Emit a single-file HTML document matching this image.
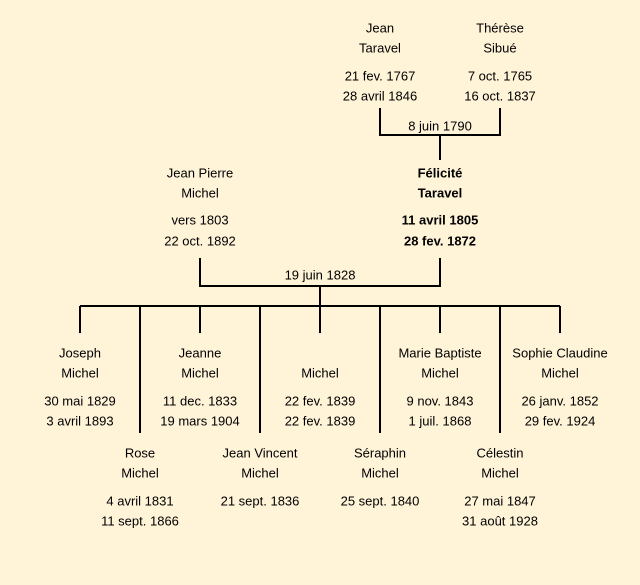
<!DOCTYPE html>
<html><head><meta charset="utf-8"><style>
html,body{margin:0;padding:0;background:#fff3d8;}
svg{display:block}
text{font-family:"Liberation Sans",sans-serif;font-size:13px;fill:#000;text-anchor:middle;dominant-baseline:central}
.b{font-weight:bold}
</style></head><body>
<svg width="640" height="585" viewBox="0 0 640 585">
<rect width="640" height="585" fill="#fff3d8"/>
<g stroke="#000" stroke-width="2" fill="none">
<path d="M380 108V135H500V108M440 135V160"/>
<path d="M200 258V286H440V258M320 286V306"/>
<path d="M80 306H560"/>
<path d="M80 306V333M200 306V333M320 306V333M440 306V333M560 306V333"/>
<path d="M140 306V433M260 306V433M380 306V433M500 306V433"/>
</g>
<g transform="translate(0,1)">
<text x="380" y="27">Jean</text><text x="380" y="47">Taravel</text>
<text x="380" y="75">21 fev. 1767</text><text x="380" y="95">28 avril 1846</text>
<text x="500" y="27">Thérèse</text><text x="500" y="47">Sibué</text>
<text x="500" y="75">7 oct. 1765</text><text x="500" y="95">16 oct. 1837</text>
<text x="440" y="125">8 juin 1790</text>
<text x="200" y="172">Jean Pierre</text><text x="200" y="192">Michel</text>
<text x="200" y="219">vers 1803</text><text x="200" y="240">22 oct. 1892</text>
<text class="b" x="440" y="172">Félicité</text><text class="b" x="440" y="192">Taravel</text>
<text class="b" x="440" y="219">11 avril 1805</text><text class="b" x="440" y="240">28 fev. 1872</text>
<text x="320" y="274">19 juin 1828</text>
<text x="80" y="352">Joseph</text><text x="80" y="372">Michel</text><text x="80" y="400">30 mai 1829</text><text x="80" y="420">3 avril 1893</text>
<text x="200" y="352">Jeanne</text><text x="200" y="372">Michel</text><text x="200" y="400">11 dec. 1833</text><text x="200" y="420">19 mars 1904</text>
<text x="320" y="372">Michel</text><text x="320" y="400">22 fev. 1839</text><text x="320" y="420">22 fev. 1839</text>
<text x="440" y="352">Marie Baptiste</text><text x="440" y="372">Michel</text><text x="440" y="400">9 nov. 1843</text><text x="440" y="420">1 juil. 1868</text>
<text x="560" y="352">Sophie Claudine</text><text x="560" y="372">Michel</text><text x="560" y="400">26 janv. 1852</text><text x="560" y="420">29 fev. 1924</text>
<text x="140" y="452">Rose</text><text x="140" y="472">Michel</text><text x="140" y="500">4 avril 1831</text><text x="140" y="520">11 sept. 1866</text>
<text x="260" y="452">Jean Vincent</text><text x="260" y="472">Michel</text><text x="260" y="500">21 sept. 1836</text>
<text x="380" y="452">Séraphin</text><text x="380" y="472">Michel</text><text x="380" y="500">25 sept. 1840</text>
<text x="500" y="452">Célestin</text><text x="500" y="472">Michel</text><text x="500" y="500">27 mai 1847</text><text x="500" y="520">31 août 1928</text>
</g>
</svg>
</body></html>
